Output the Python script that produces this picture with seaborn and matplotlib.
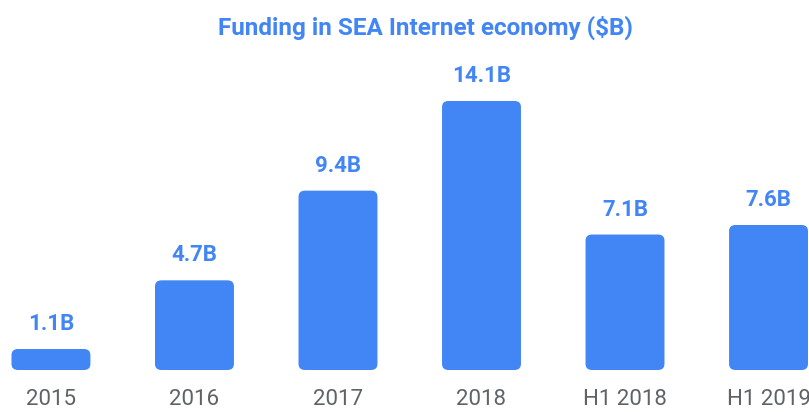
import matplotlib
matplotlib.use("Agg")
import matplotlib.pyplot as plt
import pandas as pd
import seaborn as sns
from matplotlib.patches import FancyBboxPatch

# Data
periods = ['2015', '2016', '2017', '2018', 'H1 2018', 'H1 2019']
funding_bn = [1.1, 4.7, 9.4, 14.1, 7.1, 7.6]
bar_labels = ['1.1B', '4.7B', '9.4B', '14.1B', '7.1B', '7.6B']

BLUE = '#4285F4'
GREY = '#5f6368'

sns.set_theme(style='white')
plt.rcParams['font.family'] = ['Roboto', 'DejaVu Sans']

df = pd.DataFrame({'period': periods, 'funding': funding_bn})

fig = plt.figure(figsize=(8.09, 4.12), dpi=100)
ax = fig.add_axes([0, 42 / 412, 1, 300 / 412])

sns.barplot(data=df, x='period', y='funding', color=BLUE, saturation=1,
            width=0.55, ax=ax)

ax.set_xlim(-0.355, 5.282)
ax.set_ylim(0, 300 / 19.08)

# swap plain rectangles for rounded ones
rx = 0.045
ry = 0.32
for p in list(ax.patches):
    x, y = p.get_x(), p.get_y()
    w, h = p.get_width(), p.get_height()
    rounded = FancyBboxPatch((x, y), w, h,
                             boxstyle=f'round,pad=0,rounding_size={rx}',
                             mutation_aspect=ry / rx,
                             facecolor=BLUE, edgecolor='none')
    p.remove()
    ax.add_patch(rounded)

for i, (v, lab) in enumerate(zip(funding_bn, bar_labels)):
    ax.annotate(lab, (i, v), xytext=(0, 10), textcoords='offset points',
                ha='center', va='bottom', color=BLUE, fontsize=16,
                fontweight='bold')

ax.set_xlabel('')
ax.set_ylabel('')
ax.set_yticks([])
ax.tick_params(axis='x', length=0, pad=14, labelsize=16, labelcolor=GREY)
sns.despine(ax=ax, left=True, bottom=True)

fig.text(0.526, 1 - 28 / 412, 'Funding in SEA Internet economy ($B)',
         ha='center', va='center', color=BLUE, fontsize=17.5,
         fontweight='bold')

fig.savefig('out.png', dpi=100, facecolor='white')
